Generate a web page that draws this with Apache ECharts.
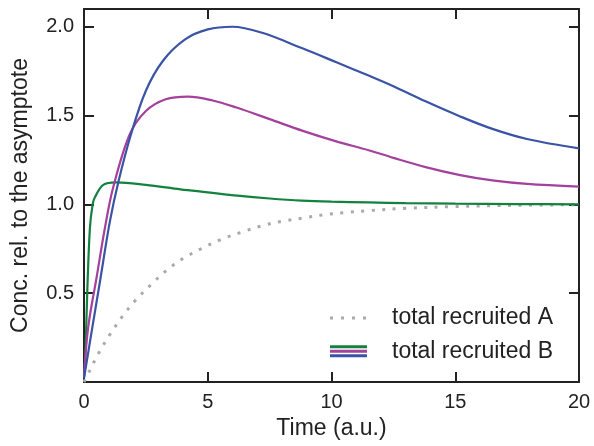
<!DOCTYPE html>
<html lang="en">
<head>
    <meta charset="UTF-8">
    <title>Recruitment curves</title>
    <script src="https://cdn.jsdelivr.net/npm/echarts@6/dist/echarts.min.js"></script>
    <style>
        html, body { margin: 0; padding: 0; background: #fff; }
    </style>
</head>
<body>

<div id="main" style="width: 594px;height:446px;"></div>

<script type="text/javascript">
    // values (time in a.u., conc. relative to asymptote)
    var xTicks = [0, 5, 10, 15, 20];
    var yTicks = [0.5, 1.0, 1.5, 2.0];

    // total recruited A (grey dotted)
    var tA = [0, 0.2, 0.6, 1.05, 1.55, 2.1, 2.7, 3.3, 4, 4.8, 5.55, 6.4, 7.2, 8, 8.9, 9.7, 10.6, 11.5, 13, 15, 17.5, 20];
    var vA = [0.0, 0.056, 0.165, 0.268, 0.369, 0.463, 0.547, 0.624, 0.695, 0.755, 0.803, 0.845, 0.88, 0.905, 0.924, 0.942, 0.955, 0.965, 0.978, 0.988, 0.995, 0.998];

    // total recruited B, three variants
    var tBlue = [0, 0.25, 0.65, 1.05, 1.4, 1.9, 2.5, 3.2, 4.1, 5.0, 6.0, 7.2, 8.8, 10.2, 11.5, 12.5, 13.8, 15.2, 16.5, 17.9, 20];
    var vBlue = [0.02, 0.234, 0.57, 0.907, 1.133, 1.395, 1.64, 1.81, 1.93, 1.985, 2.0, 1.966, 1.880, 1.800, 1.725, 1.665, 1.580, 1.495, 1.425, 1.368, 1.315];

    var tPurple = [0, 0.17, 0.51, 0.85, 1.18, 1.85, 2.5, 3.3, 4.2, 5.2, 6.16, 7.5, 8.84, 10.19, 11.5, 12.5, 13.8, 15.2, 16.5, 17.9, 20];
    var vPurple = [0.03, 0.309, 0.59, 0.871, 1.096, 1.395, 1.526, 1.592, 1.607, 1.585, 1.545, 1.48, 1.414, 1.355, 1.305, 1.262, 1.210, 1.165, 1.135, 1.115, 1.10];

    var tGreen = [0, 0.04, 0.13, 0.24, 0.35, 0.44, 0.78, 1.3, 2.5, 3.9, 5, 6.2, 7.5, 8.8, 10, 11.5, 13, 15, 17.5, 20];
    var vGreen = [0.03, 0.084, 0.50, 0.87, 1.0, 1.04, 1.11, 1.124, 1.11, 1.085, 1.068, 1.049, 1.033, 1.021, 1.015, 1.011, 1.007, 1.004, 1.002, 1.0];

    var legendNames = ['total recruited A', 'total recruited B'];

    function pairs(t, v) {
        var out = [];
        for (var i = 0; i < t.length; i++) out.push([t[i], v[i]]);
        return out;
    }

    var ink = '#222';
    var font = 'Liberation Sans, Arial, sans-serif';
    var cBlue = '#3a53a4', cPurple = '#a3419c', cGreen = '#13823f', cGrey = '#aaaaaa';

    function frameAxis(extra) {
        var base = {
            axisLine: { show: true, onZero: false, lineStyle: { color: ink, width: 2 } },
            axisTick: { show: true, inside: true, length: 10, lineStyle: { color: ink, width: 2 } },
            splitLine: { show: false }
        };
        for (var k in extra) base[k] = extra[k];
        return base;
    }

    var myChart = echarts.init(document.getElementById('main'));

    var option = {
        animation: false,
        grid: { left: 84, right: 15, top: 9, bottom: 64 },
        xAxis: [
            frameAxis({
                type: 'value', position: 'bottom', min: 0, max: 20, interval: 5,
                name: 'Time (a.u.)', nameLocation: 'middle', nameGap: 35,
                nameTextStyle: { color: ink, fontSize: 23, fontFamily: font },
                axisLabel: {
                    color: ink, fontSize: 20, fontFamily: font, margin: 10,
                    formatter: function (v) { return xTicks.indexOf(v) >= 0 ? String(v) : ''; }
                }
            }),
            frameAxis({
                type: 'value', position: 'top', min: 0, max: 20, interval: 5,
                axisLabel: { show: false }
            })
        ],
        yAxis: [
            frameAxis({
                type: 'value', position: 'left', min: 0, max: 2.1, interval: 0.5,
                name: 'Conc. rel. to the asymptote', nameLocation: 'middle', nameGap: 52,
                nameTextStyle: { color: ink, fontSize: 23, fontFamily: font },
                axisLabel: {
                    color: ink, fontSize: 20, fontFamily: font, margin: 10,
                    formatter: function (v) {
                        for (var i = 0; i < yTicks.length; i++) {
                            if (Math.abs(yTicks[i] - v) < 1e-6) return yTicks[i].toFixed(1);
                        }
                        return '';
                    }
                }
            }),
            frameAxis({
                type: 'value', position: 'right', min: 0, max: 2.1, interval: 0.5,
                axisLabel: { show: false }
            })
        ],
        series: [
            {
                name: legendNames[0], type: 'line', showSymbol: false, smooth: 0.35,
                data: pairs(tA, vA),
                lineStyle: { color: cGrey, width: 3, type: [3, 7.5], cap: 'butt' }
            },
            {
                name: legendNames[1], type: 'line', showSymbol: false, smooth: 0.35,
                data: pairs(tGreen, vGreen),
                lineStyle: { color: cGreen, width: 2.2 }
            },
            {
                name: legendNames[1], type: 'line', showSymbol: false, smooth: 0.35,
                data: pairs(tPurple, vPurple),
                lineStyle: { color: cPurple, width: 2.2 }
            },
            {
                name: legendNames[1], type: 'line', showSymbol: false, smooth: 0.35,
                data: pairs(tBlue, vBlue),
                lineStyle: { color: cBlue, width: 2.2 }
            }
        ],
        // hand-drawn legend (entry B shows the three colours stacked)
        graphic: [
            { type: 'line', shape: { x1: 330, y1: 318, x2: 367, y2: 318 },
              style: { stroke: cGrey, lineWidth: 3, lineDash: [3, 8] } },
            { type: 'text', left: 392, top: 306,
              style: { text: legendNames[0], fill: ink, font: '23px ' + font } },
            { type: 'line', shape: { x1: 330, y1: 346.7, x2: 367, y2: 346.7 },
              style: { stroke: cGreen, lineWidth: 3 } },
            { type: 'line', shape: { x1: 330, y1: 351.2, x2: 367, y2: 351.2 },
              style: { stroke: cPurple, lineWidth: 3 } },
            { type: 'line', shape: { x1: 330, y1: 355.7, x2: 367, y2: 355.7 },
              style: { stroke: cBlue, lineWidth: 3 } },
            { type: 'text', left: 392, top: 340,
              style: { text: legendNames[1], fill: ink, font: '23px ' + font } }
        ]
    };

    myChart.setOption(option);
</script>
</body>
</html>
